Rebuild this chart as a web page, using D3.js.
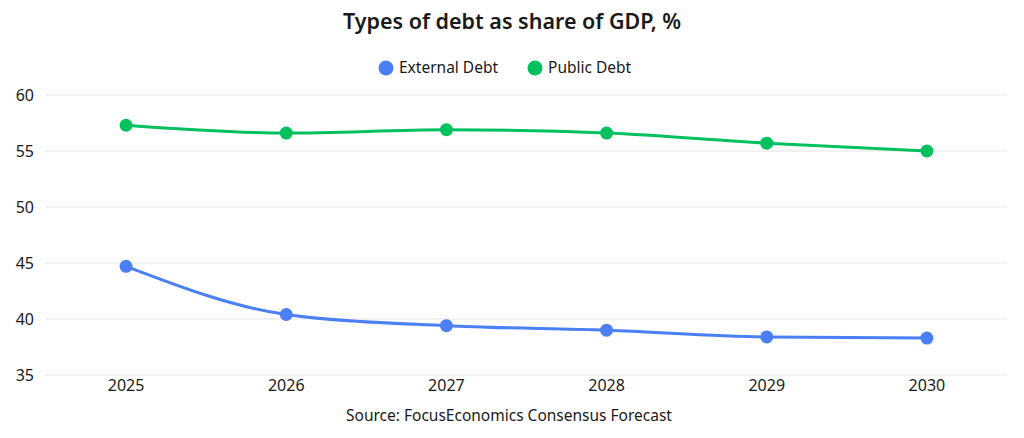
<!DOCTYPE html>
<html>
<head>
<meta charset="utf-8">
<script src="https://cdn.jsdelivr.net/npm/d3@7"></script>
<style>
  body { margin: 0; background: #fff; }
  text { font-family: "Noto Sans", "Open Sans", sans-serif; fill: #1a1a1a; }
</style>
</head>
<body>
<div id="chart"></div>
<script>
// chart values
var years = ["2025", "2026", "2027", "2028", "2029", "2030"];
var externalDebt = [44.7, 40.4, 39.4, 39.0, 38.4, 38.3];
var publicDebt = [57.3, 56.6, 56.9, 56.6, 55.7, 55.0];
var yTicks = [35, 40, 45, 50, 55, 60];
var seriesNames = ["External Debt", "Public Debt"];
var seriesColors = ["#4a7ff5", "#00c15e"];

var width = 1024;
var height = 438;
var plotLeft = 46, plotRight = 1007, plotTop = 95, plotBottom = 375;

var svg = d3.select("#chart")
  .append("svg")
  .attr("width", width)
  .attr("height", height);

var xScale = d3.scaleBand()
  .domain(years)
  .range([plotLeft, plotRight]);

var yScale = d3.scaleLinear()
  .domain([35, 60])
  .range([plotBottom, plotTop]);

// grid lines
svg.append("g")
  .selectAll("line")
  .data(yTicks)
  .enter()
  .append("line")
  .attr("x1", plotLeft)
  .attr("x2", plotRight)
  .attr("y1", function(d) { return yScale(d); })
  .attr("y2", function(d) { return yScale(d); })
  .attr("stroke", "#e3e3e3")
  .attr("stroke-width", 1);

// y axis labels
var yAxis = d3.axisLeft(yScale).tickValues(yTicks).tickSize(0).tickPadding(0);
svg.append("g")
  .attr("transform", "translate(" + 34 + ",0)")
  .call(yAxis)
  .call(function(g) {
    g.select(".domain").remove();
    g.attr("font-family", null).attr("font-size", null);
    g.selectAll("text")
      .attr("text-anchor", "end")
      .attr("font-size", "16px")
      .attr("fill", "#1a1a1a");
  });

// x axis labels
var xAxis = d3.axisBottom(xScale).tickSize(0).tickPadding(0);
svg.append("g")
  .attr("transform", "translate(0," + 380 + ")")
  .call(xAxis)
  .call(function(g) {
    g.select(".domain").remove();
    g.attr("font-family", null).attr("font-size", null);
    g.selectAll("text")
      .attr("font-size", "16px")
      .attr("fill", "#1a1a1a");
  });

var line = d3.line()
  .x(function(d, i) { return xScale(years[i]) + xScale.bandwidth() / 2; })
  .y(function(d) { return yScale(d); })
  .curve(d3.curveMonotoneX);

var allSeries = [externalDebt, publicDebt];

allSeries.forEach(function(values, s) {
  svg.append("path")
    .datum(values)
    .attr("d", line)
    .attr("fill", "none")
    .attr("stroke", seriesColors[s])
    .attr("stroke-width", 3);

  svg.append("g")
    .selectAll("circle")
    .data(values)
    .enter()
    .append("circle")
    .attr("cx", function(d, i) { return xScale(years[i]) + xScale.bandwidth() / 2; })
    .attr("cy", function(d) { return yScale(d); })
    .attr("r", 6.5)
    .attr("fill", seriesColors[s]);
});

// title
svg.append("text")
  .attr("x", width / 2)
  .attr("y", 29)
  .attr("text-anchor", "middle")
  .attr("font-size", "21.5px")
  .attr("font-weight", 600)
  .text("Types of debt as share of GDP, %");

// legend
var legendX = [386, 535];
var legend = svg.selectAll(".legend")
  .data(seriesNames)
  .enter()
  .append("g")
  .attr("class", "legend")
  .attr("transform", function(d, i) { return "translate(" + legendX[i] + ",68)"; });

legend.append("circle")
  .attr("r", 7.5)
  .attr("fill", function(d, i) { return seriesColors[i]; });

legend.append("text")
  .attr("x", 13)
  .attr("dy", "0.35em")
  .attr("font-size", "15.5px")
  .text(function(d) { return d; });

// source
svg.append("text")
  .attr("x", 509)
  .attr("y", 421)
  .attr("text-anchor", "middle")
  .attr("font-size", "15.5px")
  .text("Source: FocusEconomics Consensus Forecast");
</script>
</body>
</html>
